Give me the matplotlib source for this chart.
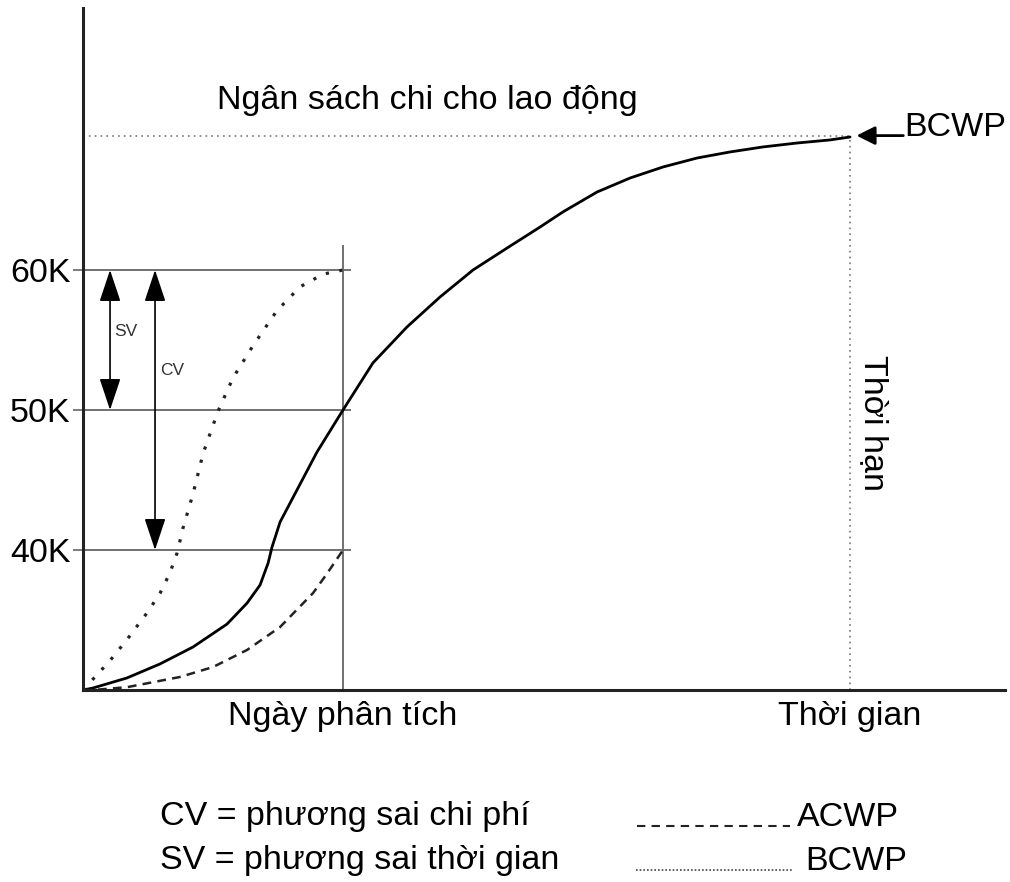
# Librerias
import matplotlib.pyplot as plt
from matplotlib.lines import Line2D
from matplotlib.patches import ArrowStyle

plt.rcParams['font.family'] = ['Liberation Sans', 'DejaVu Sans']

# Datos (x = tiempo, y = miles)
plan_x = [0, 0.38, 1.69, 2.96, 4.23, 5.54, 6.31, 6.81, 7.12, 7.27, 7.58, 8.23, 9.0, 10.0,
          11.15, 12.46, 13.73, 15.0, 16.31, 17.58, 18.46, 19.77, 21.04, 22.31, 23.62,
          24.88, 26.15, 27.46, 28.73, 29.5]
plan_y = [30.0, 30.14, 30.86, 31.86, 33.07, 34.71, 36.21, 37.5, 39.07, 40.21, 42.0, 44.29, 47.0, 50.0,
          53.36, 55.93, 58.07, 60.0, 61.57, 63.07, 64.15, 65.57, 66.57, 67.36, 68.0,
          68.43, 68.79, 69.07, 69.29, 69.5]

bcwp_x = [0, 1.04, 1.69, 2.46, 2.96, 3.35, 3.62, 3.85, 4.23, 4.62, 5.19, 5.77, 6.54, 7.46, 8.35, 9.23, 10.0]
bcwp_y = [30.0, 32.1, 33.6, 35.5, 36.9, 38.4, 39.8, 41.6, 44.0, 46.9, 49.9, 52.3, 54.6, 57.1, 58.8, 59.7, 60.0]

acwp_x = [0, 0.38, 1.69, 3.73, 5.0, 6.31, 7.58, 8.85, 9.38, 10.0]
acwp_y = [30.0, 30.0, 30.2, 30.93, 31.64, 32.86, 34.5, 36.93, 38.3, 40.0]

niveles = [40, 50, 60]
niveles_txt = ['40K', '50K', '60K']
fecha_analisis = 10.0
plazo = 29.5
presupuesto = 69.6
x_txt = [fecha_analisis, plazo]
x_lbl = ['Ngày phân tích', 'Thời gian']

fs = 24.5

fig = plt.figure(figsize=(10.1, 8.82), dpi=100)
ax = fig.add_axes([83 / 1010, 1 - 690 / 882, 922 / 1010, 682 / 882])
ax.set_xlim(0, 35.46)
ax.set_ylim(30, 30 + 682 / 14)

# Ejes
for s in ['top', 'right']:
    ax.spines[s].set_visible(False)
for s in ['left', 'bottom']:
    ax.spines[s].set_linewidth(2.2)
    ax.spines[s].set_color('#222222')

ax.set_yticks(niveles, niveles_txt, fontsize=fs)
ax.tick_params(axis='y', length=7, width=1.2, color='#666666', pad=2)
ax.set_xticks(x_txt, x_lbl, fontsize=fs)
ax.tick_params(axis='x', length=0, pad=8)

# Lineas de referencia
ax.hlines(niveles, 0, 10.3, color='#666666', lw=1.3)
ax.vlines(fecha_analisis, 30, 61.8, color='#666666', lw=1.3)
ax.hlines(presupuesto, 0, plazo, color='#777777', lw=1.2, linestyles=(0, (1, 2.5)))
ax.vlines(plazo, 30, presupuesto, color='#777777', lw=1.2, linestyles=(0, (1, 2.5)))

# Curvas
ax.plot(plan_x, plan_y, color='black', lw=2, solid_capstyle='round', solid_joinstyle='round')
ax.plot(bcwp_x, bcwp_y, color='#222222', lw=2.3, linestyle=(0, (1, 3.3)))
ax.plot(acwp_x, acwp_y, color='#222222', lw=1.8, linestyle=(0, (3.5, 2.5)))

# Flechas SV y CV
estilo = ArrowStyle('<|-|>', head_length=0.9, head_width=0.3)
ax.annotate('', xy=(1.04, 50), xytext=(1.04, 60),
            arrowprops=dict(arrowstyle=estilo, color='black', lw=1.2, mutation_scale=22, shrinkA=0, shrinkB=0))
ax.annotate('', xy=(2.77, 40), xytext=(2.77, 60),
            arrowprops=dict(arrowstyle=estilo, color='black', lw=1.2, mutation_scale=22, shrinkA=0, shrinkB=0))
ax.text(1.2, 55.6, 'SV', fontsize=12.5, va='center', color='#333333')
ax.text(2.95, 52.8, 'CV', fontsize=12.5, va='center', color='#333333')

# Textos
ax.text(5.15, 72.1, 'Ngân sách chi cho lao động', fontsize=fs, va='center')
ax.text(31.6, 70.2, 'BCWP', fontsize=fs, va='center', clip_on=False)
ax.annotate('', xy=(29.75, presupuesto), xytext=(31.55, presupuesto),
            arrowprops=dict(arrowstyle='-|>', color='black', lw=2, mutation_scale=28, shrinkA=0, shrinkB=0))
ax.text(30.4, 49.1, 'Thời hạn', fontsize=fs, rotation=-90, ha='center', va='center')

# Leyenda inferior
fig.text(160 / 1010, 1 - 817 / 882, 'CV = phương sai chi phí', fontsize=fs, va='center')
fig.text(160 / 1010, 1 - 861 / 882, 'SV = phương sai thời gian', fontsize=fs, va='center')
fig.text(797 / 1010, 1 - 817 / 882, 'ACWP', fontsize=fs, va='center')
fig.text(805 / 1010, 1 - 861 / 882, 'BCWP', fontsize=fs, va='center')
fig.add_artist(Line2D([637 / 1010, 790 / 1010], [1 - 826 / 882, 1 - 826 / 882], color='#222222',
                      lw=1.5, linestyle=(0, (4, 3)), transform=fig.transFigure))
fig.add_artist(Line2D([636 / 1010, 792 / 1010], [1 - 870 / 882, 1 - 870 / 882], color='#444444',
                      lw=1.2, linestyle=(0, (1, 1.2)), transform=fig.transFigure))

fig.savefig('out.png', dpi=100)
